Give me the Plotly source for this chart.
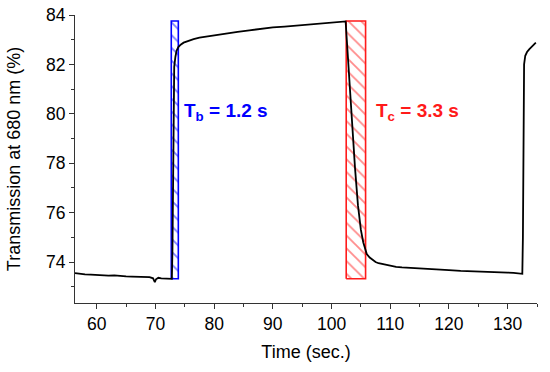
import plotly.graph_objects as go

# Measured trace (time in s, transmission in %)
time_s = [56.3, 57, 58, 59, 60, 61, 62, 63, 64, 65, 66, 67, 68, 69, 69.6, 69.9, 70.1,
          70.5, 71, 71.5, 72, 72.5, 72.8, 72.9, 73.0, 73.1, 73.2, 73.4, 73.6, 73.9, 74.3,
          74.8, 75.5, 76.5, 77.5, 78.5, 80, 82, 84, 86, 88, 90, 92, 94, 96, 98, 100,
          101.5, 102.4, 102.6, 103.0, 103.5, 104.0, 104.5, 105.0, 105.4, 105.7, 106.0,
          106.5, 107, 107.5, 108, 109, 110, 111, 112, 114, 116, 118, 120, 122, 124, 126,
          128, 130, 131, 132, 132.5, 132.6, 132.7, 132.8, 133.0, 133.3, 133.7, 134.2, 134.8]
transmission = [73.55, 73.52, 73.50, 73.49, 73.47, 73.46, 73.45, 73.46, 73.43, 73.42, 73.41,
                73.40, 73.38, 73.39, 73.34, 73.18, 73.30, 73.36, 73.34, 73.33, 73.31, 73.30,
                73.32, 74.5, 78.5, 81.0, 81.9, 82.3, 82.55, 82.7, 82.8, 82.88, 82.95, 83.02,
                83.08, 83.12, 83.18, 83.25, 83.32, 83.38, 83.45, 83.50, 83.53, 83.57, 83.60,
                83.65, 83.68, 83.70, 83.74, 83.0, 81.4, 79.5, 77.8, 76.3, 75.3, 74.8, 74.5,
                74.32, 74.18, 74.08, 74.0, 73.95, 73.89, 73.84, 73.80, 73.78, 73.76, 73.73,
                73.70, 73.67, 73.64, 73.63, 73.60, 73.58, 73.57, 73.56, 73.54, 73.52, 75.0,
                80.5, 82.0, 82.35, 82.5, 82.62, 82.75, 82.88]

# Highlighted intervals
intervals = [("Tb", 72.7, 73.9, "#0000ff", "T<sub>b</sub> = 1.2 s", 74.6),
             ("Tc", 102.5, 105.8, "#ff1a1a", "T<sub>c</sub> = 3.3 s", 107.3)]
box_bottom = 73.32
box_top = 83.76
label_y = 80.07

fig = go.Figure()
for name, x0, x1, col, label, lx in intervals:
    fig.add_trace(go.Scatter(
        x=[x0, x1, x1, x0, x0], y=[box_bottom, box_bottom, box_top, box_top, box_bottom],
        mode="lines", fill="toself", fillcolor="rgba(255,255,255,0)",
        fillpattern=dict(shape="\\", fgcolor=col, bgcolor="white", size=9, solidity=0.2),
        line=dict(color=col, width=1.6), showlegend=False, hoverinfo="skip"))
    fig.add_annotation(x=lx, y=label_y, text=label, showarrow=False, xanchor="left",
                       yanchor="middle", font=dict(color=col, size=19,
                                                   family="Liberation Sans", weight="bold"))

fig.add_trace(go.Scatter(x=time_s, y=transmission, mode="lines",
                         line=dict(color="black", width=1.8), showlegend=False))

axis_common = dict(showline=True, linecolor="#333", linewidth=1.2, ticks="outside",
                   ticklen=5, tickcolor="#333", showgrid=False, zeroline=False,
                   tickfont=dict(size=17.5, color="black"), mirror=False, automargin=False)
fig.update_xaxes(range=[56.3, 135], tickvals=[60, 70, 80, 90, 100, 110, 120, 130],
                 minor=dict(ticks="outside", ticklen=3, dtick=5, tick0=55, tickcolor="#333"),
                 title=dict(text="Time (sec.)", font=dict(size=18, color="black"), standoff=12),
                 **axis_common)
fig.update_yaxes(range=[72.34, 84], tickvals=[74, 76, 78, 80, 82, 84],
                 minor=dict(ticks="outside", ticklen=3, dtick=1, tick0=73, tickcolor="#333"),
                 title=dict(text="Transmission at 680 nm (%)", font=dict(size=18, color="black"),
                            standoff=20),
                 **axis_common)
fig.update_layout(width=550, height=372, margin=dict(l=75, r=13, t=15, b=69),
                  plot_bgcolor="white", paper_bgcolor="white",
                  font=dict(family="Liberation Sans", color="black"))
fig.write_html("out.html", config={"displayModeBar": False},
               post_script="document.body.style.margin='0';")
